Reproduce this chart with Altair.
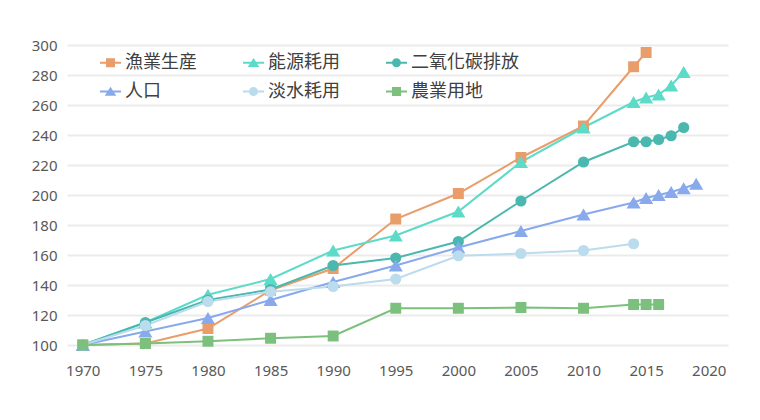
import altair as alt
import pandas as pd

series_names = ["漁業生産", "能源耗用", "二氧化碳排放", "人口", "淡水耗用", "農業用地"]

fish_years = [1970, 1975, 1980, 1985, 1990, 1995, 2000, 2005, 2010, 2014, 2015]
fish_vals = [100, 101, 111, 136.5, 151, 184, 201, 225, 246, 285.5, 295]

energy_years = [1970, 1975, 1980, 1985, 1990, 1995, 2000, 2005, 2010, 2014, 2015, 2016, 2017, 2018]
energy_vals = [100, 115, 133.5, 144, 163, 173, 189, 222, 245, 262, 265, 267, 273, 282]

co2_years = [1970, 1975, 1980, 1985, 1990, 1995, 2000, 2005, 2010, 2014, 2015, 2016, 2017, 2018]
co2_vals = [100, 115, 130, 137, 153, 158, 169, 196, 222, 235.5, 235.5, 237, 239.5, 245]

pop_years = [1970, 1975, 1980, 1985, 1990, 1995, 2000, 2005, 2010, 2014, 2015, 2016, 2017, 2018, 2019]
pop_vals = [100, 109, 118, 130, 142, 153, 165, 176, 187, 195, 198, 200, 202, 204.5, 207.5]

water_years = [1970, 1975, 1980, 1985, 1990, 1995, 2000, 2005, 2010, 2014]
water_vals = [100, 113, 129, 135.5, 139, 144, 159.5, 161, 163, 167.5]

agri_years = [1970, 1975, 1980, 1985, 1990, 1995, 2000, 2005, 2010, 2014, 2015, 2016]
agri_vals = [100, 101, 102.5, 104.5, 106, 124.5, 124.5, 125, 124.5, 127, 127, 127]

x_ticks = [1970, 1975, 1980, 1985, 1990, 1995, 2000, 2005, 2010, 2015, 2020]
y_ticks = [100, 120, 140, 160, 180, 200, 220, 240, 260, 280, 300]

colors = ["#E89D6B", "#5CDBC9", "#4BB8B0", "#88A9EC", "#BBDCEC", "#7CC07E"]
marker_shapes = ["square", "triangle-up", "circle", "triangle-up", "circle", "square"]
marker_sizes = [120, 200, 125, 200, 125, 120]

seg = "M-1,-0.1H1V0.1H-1Z "
sq = "M-0.43,-0.43H0.43V0.43H-0.43Z"
tri = "M0,-0.45L0.55,0.4L-0.55,0.4Z"
circ = "M-0.43,0A0.43,0.43 0 1,1 0.43,0A0.43,0.43 0 1,1 -0.43,0Z"
legend_paths = [seg + sq, seg + tri, seg + circ, seg + tri, seg + circ, seg + sq]

rows = []
for name, yrs, vals in zip(
    series_names,
    [fish_years, energy_years, co2_years, pop_years, water_years, agri_years],
    [fish_vals, energy_vals, co2_vals, pop_vals, water_vals, agri_vals],
):
    for yr, v in zip(yrs, vals):
        rows.append({"series": name, "year": yr, "value": v})
df = pd.DataFrame(rows)

base = alt.Chart(df)

x_enc = alt.X(
    "year:Q",
    scale=alt.Scale(domain=[1968.74, 2021.54], nice=False, zero=False),
    axis=alt.Axis(values=x_ticks, format="d", title=None, grid=False, domain=False,
                  ticks=False, labelPadding=18, labelFont="Noto Sans", labelFontSize=15,
                  labelColor="#595959"),
)
y_enc = alt.Y(
    "value:Q",
    scale=alt.Scale(domain=[100, 300], nice=False, zero=False),
    axis=alt.Axis(values=y_ticks, title=None, domain=False, ticks=False, labelPadding=10,
                  labelFont="Noto Sans", labelFontSize=15, labelColor="#595959",
                  gridColor="#EBEBEB", gridWidth=2),
)

color_scale = alt.Scale(domain=series_names, range=colors)

lines = base.mark_line(strokeWidth=2).encode(
    x=x_enc, y=y_enc,
    color=alt.Color("series:N", scale=color_scale, legend=None),
)

points = base.mark_point(filled=True, opacity=1).encode(
    x=x_enc, y=y_enc,
    color=alt.Color("series:N", scale=color_scale, legend=None),
    shape=alt.Shape("series:N", scale=alt.Scale(domain=series_names, range=marker_shapes), legend=None),
    size=alt.Size("series:N", scale=alt.Scale(type="ordinal", domain=series_names, range=marker_sizes), legend=None),
)

leg = alt.Legend(
    title=None, orient="none", legendX=33, legendY=7, columns=3, direction="horizontal",
    gridAlign="all", columnPadding=10, rowPadding=9, symbolSize=441, symbolStrokeWidth=0,
    labelFont="Noto Sans CJK TC", labelFontSize=18, labelColor="#404040",
    labelOffset=4, padding=0,
)

legend_layer = base.transform_filter("datum.year < 0").mark_point(filled=True, opacity=1).encode(
    x=x_enc, y=y_enc,
    color=alt.Color("series:N", scale=color_scale, legend=leg),
    shape=alt.Shape("series:N", scale=alt.Scale(domain=series_names, range=legend_paths), legend=leg),
)

chart = alt.layer(lines, points, legend_layer).resolve_scale(
    color="independent", shape="independent"
).resolve_legend(
    color="independent", shape="independent"
).properties(
    width=661, height=300,
    padding={"left": 59, "top": 37, "right": 20, "bottom": 50},
    autosize=alt.AutoSizeParams(type="none"),
    background="white",
).configure_view(stroke=None)

chart.save("out.html", embed_options={"renderer": "svg", "actions": False})
